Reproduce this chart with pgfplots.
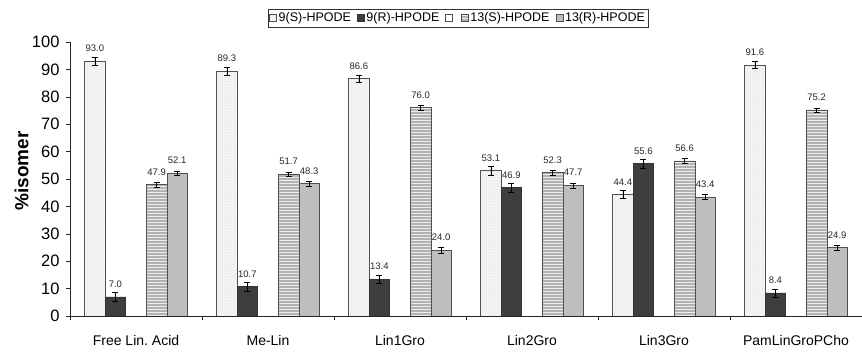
\documentclass[border=0pt]{standalone}
\usepackage{pgfplots}
\pgfplotsset{compat=1.18}
\usepackage{pgfplotstable}
\usepackage{fontspec}
\setmainfont{Liberation Sans}
\usetikzlibrary{patterns}

\definecolor{cSnine}{HTML}{F3F3F3}
\definecolor{cRnine}{HTML}{3E3E3E}
\definecolor{cSthirteen}{HTML}{B2B2B2}
\definecolor{cRthirteen}{HTML}{BEBEBE}
\definecolor{edge}{HTML}{505050}

\pgfplotstableread{
x y e
-0.312 93.0 1.4
0.688 89.3 1.3
1.688 86.6 1.3
2.688 53.1 1.6
3.688 44.4 1.5
4.688 91.6 1.3
}\nineS
\pgfplotstableread{
x y e
-0.156 7.0 1.5
0.844 10.7 1.6
1.844 13.4 1.5
2.844 46.9 1.6
3.844 55.6 1.6
4.844 8.4 1.5
}\nineR
\pgfplotstableread{
x y e
0.156 47.9 1.0
1.156 51.7 0.8
2.156 76.0 0.8
3.156 52.3 0.8
4.156 56.6 0.85
5.156 75.2 0.8
}\thirteenS
\pgfplotstableread{
x y e
0.312 52.1 0.8
1.312 48.3 0.9
2.312 24.0 1.0
3.312 47.7 0.9
4.312 43.4 0.9
5.312 24.9 1.0
}\thirteenR

\begin{document}
\begin{tikzpicture}
\path[use as bounding box] (-70pt,-36pt) rectangle (792pt,316pt);
\begin{axis}[
  scale only axis,
  width=792pt, height=274pt,
  xmin=-0.5, xmax=5.5,
  ymin=0, ymax=100,
  axis x line*=bottom,
  axis y line*=left,
  axis line style={black!85},
  ytick={0,10,...,100},
  xtick={0,1,2,3,4,5},
  xticklabels={Free Lin.\ Acid, Me-Lin, Lin1Gro, Lin2Gro, Lin3Gro, PamLinGroPCho},
  minor xtick={-0.5,0.5,1.5,2.5,3.5,4.5,5.5},
  major x tick style={draw=none},
  minor x tick style={black!85},
  y tick style={black!85},
  tick align=outside,
  major tick length=4pt,
  minor tick length=4pt,
  xticklabel style={font=\fontsize{14}{16}\selectfont, yshift=-12pt},
  yticklabel style={font=\fontsize{16.5}{18}\selectfont, xshift=-3pt},
  /pgf/number format/assume math mode=true,
  ylabel={\textbf{\%isomer}},
  ylabel style={font=\fontsize{19}{21}\selectfont, at={(axis description cs:-0.061,0.53)}, anchor=center},
  legend style={at={(axis description cs:0.49,1)}, anchor=south, yshift=15pt,
    draw=black!80, font=\fontsize{12.5}{14}\selectfont, inner sep=1.5pt,
    legend columns=5, /tikz/every even column/.append style={column sep=4pt}},
  mybar/.style={ybar, bar width=0.156, bar shift=0pt, draw=edge, line width=0.6pt,
    legend image code/.code={\draw[##1, line width=0.5pt] (0pt,-3.5pt) rectangle (7pt,3.5pt);}},
  error bars/y dir=both, error bars/y explicit,
  error bars/error bar style={black, line width=0.5pt},
  error bars/error mark options={rotate=90, mark size=3pt, black, line width=0.5pt},
  nodes near coords,
  nodes near coords style={font=\fontsize{9.5}{10}\selectfont, text=black!85, yshift=8pt, inner sep=1pt,
    /pgf/number format/.cd, fixed, fixed zerofill, precision=1},
]
\addplot[mybar, fill=cSnine, postaction={pattern=dots, pattern color=gray!30}] table[x=x, y=y, y error=e] {\nineS};
\addlegendentry{9(S)-HPODE}
\addplot[mybar, fill=cRnine, draw=black!80] table[x=x, y=y, y error=e] {\nineR};
\addlegendentry{9(R)-HPODE}
\addlegendimage{mybar, fill=white}
\addlegendentry{}
\addplot[mybar, fill=cSthirteen, postaction={pattern=horizontal lines, pattern color=white!85!gray}] table[x=x, y=y, y error=e] {\thirteenS};
\addlegendentry{13(S)-HPODE}
\addplot[mybar, fill=cRthirteen] table[x=x, y=y, y error=e] {\thirteenR};
\addlegendentry{13(R)-HPODE}
\end{axis}
\end{tikzpicture}
\end{document}
